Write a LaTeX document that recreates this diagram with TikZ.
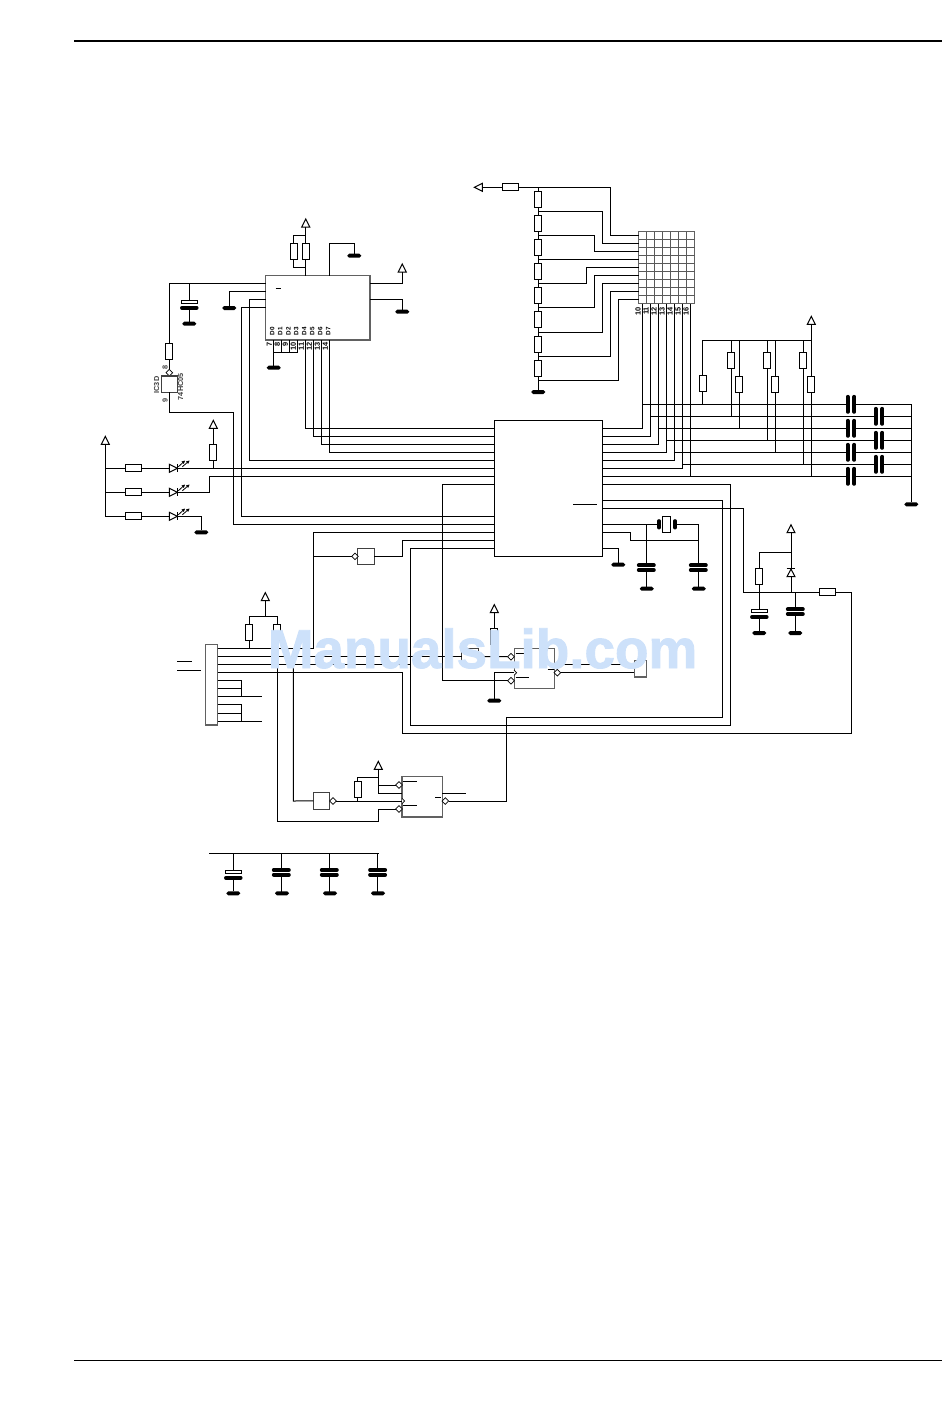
\documentclass[tikz,border=0pt]{standalone}
\usepackage{fontspec}
\setmainfont{Liberation Sans}
\newfontfamily\wmfont[FakeBold=1.6]{Liberation Sans Bold}
\usetikzlibrary{shapes.geometric,arrows.meta}
\definecolor{wmark}{HTML}{CDE1FA}
\tikzset{
  resv/.style={draw,fill=white,rectangle,minimum width=7pt,minimum height=16pt,inner sep=0pt,outer sep=0pt},
  resh/.style={draw,fill=white,rectangle,minimum width=16pt,minimum height=7pt,inner sep=0pt,outer sep=0pt},
  gndbar/.style={fill=black,rectangle,rounded corners=1.9pt,minimum width=14pt,minimum height=4pt,inner sep=0pt,outer sep=0pt},
  chip/.style={draw,fill=white,rectangle,inner sep=0pt,outer sep=0pt},
  greychip/.style={chip,draw=black!62,line width=1.25pt},
  gatebox/.style={draw=black!75,line width=1.15pt,fill=white,rectangle,minimum size=16.4pt,inner sep=0pt,outer sep=0pt},
  bubble/.style={draw,fill=white,diamond,minimum size=6.6pt,inner sep=0pt,outer sep=0pt,line width=0.7pt},
  plate/.style={line width=3.7pt,line cap=round},
  txt/.style={font=\fontsize{7.3}{7.3}\selectfont\bfseries,text=black!75,inner sep=0pt,rotate=90},
  txtb/.style={font=\fontsize{6.3}{6.3}\selectfont\bfseries,inner sep=0pt,rotate=90},
  txtn/.style={font=\fontsize{7.4}{7.4}\selectfont\bfseries,inner sep=0pt,rotate=90},
  ledarrow/.style={-{Latex[length=3.6pt,width=3.6pt]},line width=0.8pt},
}
\newcommand\Vcc[3]{\coordinate (#1) at (#2,#3);\draw[fill=white] (#2-4,#3) -- (#2,#3-8) -- (#2+4,#3) -- cycle;}
\newcommand\VccL[3]{\coordinate (#1) at (#2,#3);\draw[fill=white] (#2,#3-4) -- (#2-8,#3) -- (#2,#3+4) -- cycle;}
\newcommand\Gnd[3]{\node[gndbar] (#1) at (#2,#3) {};}
\newcommand\Rv[3]{\node[resv] (#1) at (#2,#3) {};}
\newcommand\Rh[3]{\node[resh] (#1) at (#2,#3) {};}
\newcommand\Bub[3]{\node[bubble] (#1) at (#2,#3) {};}
\newcommand\CapV[4]{\coordinate (#1-t) at (#2,#3);\coordinate (#1-b) at (#2,#4);
  \draw[plate] (#2-7.6,#3) -- (#2+7.6,#3);\draw[plate] (#2-7.6,#4) -- (#2+7.6,#4);}
\newcommand\CapP[3]{\coordinate (#1-t) at (#2,#3-1.6);\coordinate (#1-b) at (#2,#3+6);
  \draw[fill=white] (#2-8,#3-1.6) rectangle (#2+8,#3+1.6);\draw[plate] (#2-7.4,#3+6) -- (#2+7.4,#3+6);}
\newcommand\CapH[3]{\coordinate (#1-l) at (#2-3.3,#3);\coordinate (#1-r) at (#2+3.3,#3);
  \draw[plate] (#2-3.3,#3-7.6) -- (#2-3.3,#3+7.6);\draw[plate] (#2+3.3,#3-7.6) -- (#2+3.3,#3+7.6);}
\newcommand\Led[3]{\coordinate (#1-a) at (#2,#3);\coordinate (#1-k) at (#2+8,#3);
  \draw[fill=white] (#2,#3-4) -- (#2+8,#3) -- (#2,#3+4) -- cycle;\draw (#2+8,#3-4) -- (#2+8,#3+4);
  \draw[ledarrow] (#2+9,#3-1.5) -- (#2+16,#3-8);
  \draw[ledarrow] (#2+13,#3-1.5) -- (#2+20.5,#3-8);}
\begin{document}
\begin{tikzpicture}[x=1pt,y=-1pt,line width=1pt]
\useasboundingbox (0,0) rectangle (950,1409);
\fill[white] (0,0) rectangle (950,1409);
% page rules
\coordinate (ruleTL) at (74,41);\coordinate (ruleTR) at (942,41);
\coordinate (ruleBL) at (74,1360);\coordinate (ruleBR) at (942,1360);
\draw[line width=1.6pt] (ruleTL) -- (ruleTR);
\draw[line width=0.8pt] (ruleBL) -- (ruleBR);
% chips
\node[greychip,minimum width=104.3pt,minimum height=64.3pt] (u1) at (317.85,307.85) {};
\node[chip,minimum width=108.4pt,minimum height=135.6pt] (main) at (548.5,488.5) {};
\node[greychip,minimum width=56pt,minimum height=72pt] (mat) at (666.7,267.7) {};
\foreach \k in {0,...,5} {\draw[black!65] (646.7+8*\k,231.7) -- (646.7+8*\k,303.7);}
\foreach \k in {0,...,7} {\draw[black!65] (638.7,239.7+8*\k) -- (694.7,239.7+8*\k);}
\draw (275.7,288.3) -- (281,288.3);
\draw (573.3,504.3) -- (597.3,504.3);
% U1 top
\Rv{rt1}{293.7}{251.5}\Rv{rt2}{305.7}{251.5}\Vcc{v1}{305.7}{227}
\draw (v1) -- (rt2.north);
\draw (rt1.north) -- (293.7,235) -- (305.7,235);
\draw (rt1.south) -- (293.7,267.7) -- (305.7,267.7);
\draw (rt2.south) -- (rt2.south |- u1.north);
\Gnd{g1}{354.3}{255.7}
\draw (329.7,275.7) -- (329.7,243.3) -- (354.3,243.3) -- (g1);
% U1 right
\Vcc{v2}{402.3}{272}\Gnd{g2}{402.3}{311.7}
\draw (u1.east |- 0,283.3) -- (402.3,283.3) -- (v2);
\draw (u1.east |- 0,299.3) -- (402.3,299.3) -- (g2);
% U1 left, inverter IC3D
\Rv{r3}{169.3}{351.5}\Bub{b1}{169.3}{372.7}
\node[gatebox] (g3) at (169.3,384.2) {};
\draw (u1.west |- 0,283.3) -- (169.3,283.3) -- (r3.north);
\draw (r3.south) -- (b1) -- (g3.north);
\draw (g3.south) -- (169.3,412.3) -- (233.3,412.3) -- (233.3,524.3) -- (main.west |- 0,524.3);
\node[txt] (lic3d) at (156.7,385) {IC3D};
\node[txt] (l74) at (180.7,386.7) {74HC05};
\node[txt] (l8) at (165,367.3) {8};
\node[txt] (l9) at (165,400.7) {9};
\CapP{c1}{189.3}{301.8}\Gnd{g4}{189.3}{323.7}
\draw (189.3,283.3) -- (c1-t);\draw (c1-b) -- (g4);
\Gnd{g5}{229.3}{308}
\draw (u1.west |- 0,291.3) -- (229.3,291.3) -- (g5);
\draw (u1.west |- 0,299.3) -- (249.7,299.3) -- (249.7,460.3) -- (main.west |- 0,460.3);
\draw (u1.west |- 0,307.3) -- (241.7,307.3) -- (241.7,516.3) -- (main.west |- 0,516.3);
% U1 data pins
\foreach \k/\d/\p in {0/D0/7,1/D1/8,2/D2/9,3/D3/10,4/D4/11,5/D5/12,6/D6/13,7/D7/14} {
  \node[txtb,anchor=west] (ld\k) at (272.3+8*\k,336) {\d};
  \node[txtn,anchor=east] (lp\k) at (269.3+8*\k,342) {\p};
}
\Gnd{g6}{273.7}{367.7}
\foreach \k in {0,1,2,3} {\draw (273.7+8*\k,340) -- (273.7+8*\k,352.7);}
\draw (273.7,352.7) -- (297.7,352.7);
\draw (273.7,352.7) -- (g6);
\foreach \k in {0,1,2,3} {\draw (305.7+8*\k,340) -- (305.7+8*\k,428.3+8*\k) -- (main.west |- 0,428.3+8*\k);}
% LEDs
\Vcc{v3}{105.3}{444.3}
\Rh{rl1}{133.5}{468.3}\Rh{rl2}{133.5}{492.3}\Rh{rl3}{133.5}{516.3}
\Led{d1}{169.3}{468.3}\Led{d2}{169.3}{492.3}\Led{d3}{169.3}{516.3}
\draw (v3) -- (105.3,516.3) -- (rl3.west);
\draw (105.3,468.3) -- (rl1.west);\draw (105.3,492.3) -- (rl2.west);
\draw (rl1.east) -- (d1-a);\draw (rl2.east) -- (d2-a);\draw (rl3.east) -- (d3-a);
\draw (d1-k) -- (main.west |- 0,468.3);
\draw (d2-k) -- (209.3,492.3) -- (209.3,476.3) -- (main.west |- 0,476.3);
\Gnd{g7}{201.3}{532.3}
\draw (d3-k) -- (201.3,516.3) -- (g7);
\Rv{rl4}{213.3}{452.3}\Vcc{v4}{213.3}{428.3}
\draw (v4) -- (rl4.north);\draw (rl4.south) -- (213.3,468.3);
% resistor ladder and matrix
\VccL{vl}{482.3}{187.3}\Rh{rin}{510.3}{187.3}
\draw (vl) -- (rin.west);
\draw (rin.east) -- (610.3,187.3) -- (610.3,235.7) -- (mat.west |- 0,235.7);
\foreach \n/\c in {1/199.3,2/223.3,3/247.3,4/271.3,5/295.3,6/319.3,7/344.3,8/368.3} {\Rv{lad\n}{538.3}{\c}}
\Gnd{g8}{538.3}{392}
\draw (538.3,187.3) -- (lad1.north);
\draw (lad1.south) -- (lad2.north);\draw (lad2.south) -- (lad3.north);\draw (lad3.south) -- (lad4.north);
\draw (lad4.south) -- (lad5.north);\draw (lad5.south) -- (lad6.north);\draw (lad6.south) -- (lad7.north);
\draw (lad7.south) -- (lad8.north);\draw (lad8.south) -- (g8);
\draw (538.3,211.3) -- (602.7,211.3) -- (602.7,243.7) -- (mat.west |- 0,243.7);
\draw (538.3,235.3) -- (594.7,235.3) -- (594.7,251.7) -- (mat.west |- 0,251.7);
\draw (538.3,259.7) -- (mat.west |- 0,259.7);
\draw (538.3,283.3) -- (586.7,283.3) -- (586.7,267.7) -- (mat.west |- 0,267.7);
\draw (538.3,307.3) -- (594.7,307.3) -- (594.7,275.7) -- (mat.west |- 0,275.7);
\draw (538.3,332.3) -- (602.7,332.3) -- (602.7,283.7) -- (mat.west |- 0,283.7);
\draw (538.3,356.3) -- (610.3,356.3) -- (610.3,291.7) -- (mat.west |- 0,291.7);
\draw (538.3,380.3) -- (618.3,380.3) -- (618.3,299.7) -- (mat.west |- 0,299.7);
\foreach \k/\p in {0/10,1/11,2/12,3/13,4/14,5/15,6/16} {
  \node[txtn,anchor=east] (lm\k) at (638+8*\k,306.5) {\p};
  \draw (642.7+8*\k,303.7) -- (642.7+8*\k,428.3+8*\k) -- (main.east |- 0,428.3+8*\k);
}
% pull-ups and key capacitors
\Vcc{v5}{811.3}{324.3}
\draw (v5) -- (811.3,376.3);
\draw (702.7,340.3) -- (811.3,340.3);
\Rv{ru0}{702.7}{383.8}\Rv{ru1}{731}{360.3}\Rv{ru2}{739}{384.3}\Rv{ru3}{767.3}{360.3}
\Rv{ru4}{775.3}{384.3}\Rv{ru5}{803.3}{360.3}\Rv{ru6}{811}{384.3}
\draw (702.7,340.3) -- (ru0.north);\draw (ru0.south) -- (702.7,404.3);
\draw (731,340.3) -- (ru1.north);\draw (ru1.south) -- (731,416.3);
\draw (739,340.3) -- (ru2.north);\draw (ru2.south) -- (739,428.3);
\draw (767.3,340.3) -- (ru3.north);\draw (ru3.south) -- (767.3,440.3);
\draw (775.3,340.3) -- (ru4.north);\draw (ru4.south) -- (775.3,452.3);
\draw (803.3,340.3) -- (ru5.north);\draw (ru5.south) -- (803.3,464.3);
\draw (ru6.south) -- (811,476.3);
\Gnd{g9}{911.3}{504.3}
\foreach \k/\cx in {0/851,1/879,2/851,3/879,4/851,5/879,6/851} {
  \CapH{ck\k}{\cx}{404.3+12*\k}
  \draw (642.7+8*\k,404.3+12*\k) -- (ck\k-l);
  \draw (ck\k-r) -- (911.3,404.3+12*\k);
}
\draw (911.3,404.3) -- (g9);
% main lower right
\draw (main.east |- 0,484.3) -- (730.3,484.3) -- (730.3,725.3) -- (410.7,725.3) -- (410.7,548.3) -- (main.west |- 0,548.3);
\draw (main.east |- 0,500.3) -- (722.3,500.3) -- (722.3,717.3) -- (506.7,717.3) -- (506.7,801);
% crystal
\coordinate (xa) at (657.5,524.3);\coordinate (xb) at (676.5,524.3);
\draw[plate] (659,521) -- (659,527.6);\draw[plate] (675,521) -- (675,527.6);
\node[chip,minimum width=7.7pt,minimum height=16pt] (xt) at (666.2,524.3) {};
\draw (main.east |- 0,524.3) -- (xa);
\draw (xb) -- (698.3,524.3) -- (698.3,565.3);
\CapV{c2}{646.3}{565.3}{570}\CapV{c3}{698.3}{565.3}{570}
\Gnd{g10}{646.8}{588.7}\Gnd{g11}{698.8}{588.7}\Gnd{g12}{618.3}{564.7}
\draw (646.3,524.3) -- (c2-t);\draw (c2-b) -- (646.3,587);
\draw (c3-b) -- (698.3,587);
\draw (main.east |- 0,532.3) -- (630.3,532.3) -- (630.3,540.3) -- (698.3,540.3);
\draw (main.east |- 0,548.3) -- (618.3,548.3) -- (g12);
% power section
\draw (main.east |- 0,508.3) -- (743.3,508.3) -- (743.3,592.3) -- (819.3,592.3);
\Rh{rp}{827.3}{592.3}
\draw (rp.east) -- (851.3,592.3) -- (851.3,733.3) -- (402.3,733.3) -- (402.3,672.3) -- (217.7,672.3);
\Vcc{v6}{791}{532.7}
\draw (v6) -- (791,592.3);
\draw[fill=white] (787,576.7) -- (791,569) -- (795,576.7) -- cycle;
\draw (786.7,568.7) -- (795.3,568.7);
\Rv{rq}{759.3}{576.3}
\draw (791,552.3) -- (759.3,552.3) -- (rq.north);
\CapP{c4}{759.3}{611}\Gnd{g13}{759.3}{633}
\draw (rq.south) -- (759.3,592.3) -- (c4-t);\draw (c4-b) -- (g13);
\CapV{c5}{795.3}{609.3}{614}\Gnd{g14}{795.3}{633}
\draw (795.3,592.3) -- (c5-t);\draw (c5-b) -- (g14);
% flip-flop 1
\node[greychip,minimum width=40.3pt,minimum height=40pt] (ff1) at (534.3,668.5) {};
\Bub{bf1}{511}{656.7}\Bub{bf2}{511}{680.7}\Bub{bf3}{557.3}{672.7}
\draw[fill=white,line width=0.7pt] (514,670) -- (516.7,672.7) -- (514,675.4);
\draw (515.7,653.3) -- (529.3,653.3);\draw (515.7,677.3) -- (529.3,677.3);\draw (547.7,669.3) -- (554.3,669.3);
\node[gatebox] (gw) at (470,656.5) {};\Bub{bg}{481}{656.5}
\draw (217.7,656.5) -- (gw.west);
\draw (bg) -- (bf1);
\Vcc{v7}{494.3}{612.7}\Rv{rf}{494.3}{636.5}\Gnd{g15}{494.3}{700.7}
\draw (v7) -- (rf.north);\draw (rf.south) -- (494.3,656.5);
\draw (494.3,672.7) -- (514,672.7);\draw (494.3,672.7) -- (g15);
\draw (442.3,484.3) -- (main.west |- 0,484.3);
\draw (442.3,484.3) -- (442.3,680.7) -- (bf2);
\node[greychip,minimum width=12.4pt,minimum height=16.3pt] (con) at (640.5,668.85) {};
\draw (ff1.east |- 0,664.7) -- (con.west |- 0,664.7);
\draw (bf3) -- (con.west |- 0,672.7);
% left connector
\node[greychip,minimum width=12.4pt,minimum height=80.3pt] (j1) at (211.5,684.85) {};
\draw (177.3,661.3) -- (191.7,661.3);\draw (177.3,670.3) -- (200.7,670.3);
\Vcc{v8}{265.3}{600.7}\Rv{ra}{249.3}{632.5}\Rv{rb}{277.3}{632.5}
\draw (v8) -- (265.3,616.3);
\draw (ra.north) -- (249.3,616.3) -- (277.3,616.3) -- (rb.north);
\draw (ra.south) -- (249.3,648.3);
\draw (j1.east |- 0,648.3) -- (313.3,648.3) -- (313.3,532.3) -- (main.west |- 0,532.3);
\node[gatebox] (gu) at (366,556.3) {};\Bub{bu}{355}{556.3}
\draw (313.3,556.3) -- (bu);
\draw (gu.east) -- (402.3,556.3) -- (402.3,540.3) -- (main.west |- 0,540.3);
\draw (j1.east |- 0,664.3) -- (410.7,664.3);
\draw (j1.east |- 0,680.3) -- (241.3,680.3) -- (241.3,696.3);
\draw (j1.east |- 0,688.3) -- (241.3,688.3);
\draw (j1.east |- 0,696.3) -- (261.7,696.3);
\draw (j1.east |- 0,704.3) -- (241.3,704.3) -- (241.3,721.3);
\draw (j1.east |- 0,713.3) -- (241.3,713.3);
\draw (j1.east |- 0,721.3) -- (261.7,721.3);
% flip-flop 2
\node[greychip,minimum width=40.3pt,minimum height=40.3pt] (ff2) at (422.15,796.85) {};
\Bub{bh1}{399}{785}\Bub{bh2}{399}{809}\Bub{bh3}{445.3}{801}
\draw[fill=white,line width=0.7pt] (402,798.3) -- (404.7,801) -- (402,803.7);
\draw (403.3,781) -- (417.3,781);\draw (403.3,805.3) -- (417.3,805.3);\draw (435.3,797.3) -- (441,797.3);
\node[gatebox] (gv) at (321.5,800.9) {};\Bub{bv}{333}{801}
\draw (293.3,664.3) -- (293.3,801) -- (gv.west);
\draw (bv) -- (402,801);
\Rv{rv}{357.7}{789}\Vcc{v9}{378.3}{769.3}
\draw (rv.south) -- (357.7,801);
\draw (rv.north) -- (357.7,777.3) -- (378.3,777.3);
\draw (v9) -- (378.3,793) -- (ff2.west |- 0,793);
\draw (378.3,785) -- (bh1);
\draw (rb.south) -- (277.3,821.3) -- (378.3,821.3) -- (378.3,809) -- (bh2);
\draw (ff2.east |- 0,793) -- (466.3,793);
\draw (bh3) -- (506.7,801);
% bottom decoupling
\coordinate (busl) at (209.3,853.3);\coordinate (busr) at (378.3,853.3);
\draw (busl) -- (busr);
\CapP{c6}{233.3}{871.8}\CapV{c7}{281.3}{870}{874.7}\CapV{c8}{329.3}{870}{874.7}\CapV{c9}{377.6}{870}{874.7}
\Gnd{g16}{233.3}{893.3}\Gnd{g17}{282}{893.3}\Gnd{g18}{330}{893.3}\Gnd{g19}{378}{893.3}
\draw (233.3,853.3) -- (c6-t);\draw (c6-b) -- (g16);
\draw (281.3,853.3) -- (c7-t);\draw (c7-b) -- (281.3,892);
\draw (329.3,853.3) -- (c8-t);\draw (c8-b) -- (329.3,892);
\draw (busr) -- (377.6,853.3) -- (c9-t);\draw (c9-b) -- (377.6,892);
% watermark
\node[anchor=base,inner sep=0pt,text=wmark,font=\fontsize{54.8}{56}\wmfont] (wm) at (482.5,668) {ManualsLib.com};
\end{tikzpicture}
\end{document}
